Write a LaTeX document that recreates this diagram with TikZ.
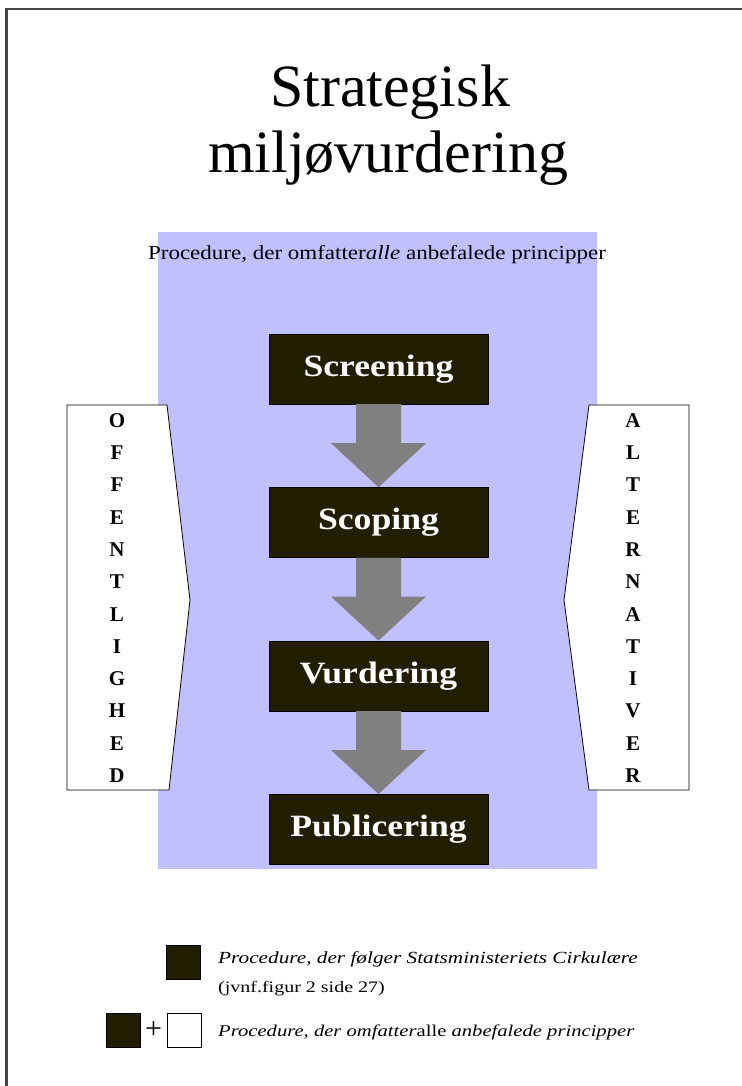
\documentclass[tikz,border=0pt]{standalone}
\usepackage{fontspec}
\setmainfont{Liberation Serif}
\newfontfamily\widefont[FakeStretch=1.15]{Liberation Serif}
\newfontfamily\keyfont[FakeStretch=1.25]{Liberation Serif}
\usetikzlibrary{positioning,calc}

\definecolor{procblue}{RGB}{192,192,255}
\definecolor{stepdark}{RGB}{34,30,2}
\definecolor{arrowgray}{RGB}{128,128,128}
\definecolor{framegray}{RGB}{70,70,70}

\tikzset{
  stepbox/.style={fill=stepdark,draw=black,minimum width=219pt,minimum height=70pt,
    text=white,font=\widefont\fontsize{31}{31}\selectfont\bfseries,inner sep=0pt},
  sideletters/.style={align=center,font=\fontsize{21}{32.3}\selectfont\bfseries,inner sep=0pt},
  panel/.style={draw=black,thick,fill=white},
  keybox/.style={draw=black,minimum size=34pt,inner sep=0pt},
  legendtext/.style={anchor=base west,inner sep=0pt,font=\keyfont\fontsize{17}{17}\selectfont\itshape},
}

% block arrow from one step box down to the next
\newcommand{\flowarrow}[2]{%
  \fill[arrowgray] ($(#1.south)+(-22.5,0)$) -- ($(#1.south)+(22.5,0)$)
    -- ($(#2.north)+(22.5,-44)$) -- ($(#2.north)+(47.5,-44)$) -- (#2.north)
    -- ($(#2.north)+(-47.5,-44)$) -- ($(#2.north)+(-22.5,-44)$) -- cycle;}

\begin{document}
\begin{tikzpicture}[x=1pt,y=-1pt]
\useasboundingbox (0,0) rectangle (741,1086);
\fill[white] (0,0) rectangle (741,1086);
\draw[framegray,line width=2.5pt] (6.5,1090) -- (6.5,9) -- (745,9);

% title
\node[font=\fontsize{60}{66}\selectfont,anchor=base] (title1) at (390,107) {Strategisk};
\node[font=\fontsize{60}{66}\selectfont,anchor=base] (title2) at (388,173) {miljøvurdering};

% blue procedure area
\fill[procblue] (158,232) rectangle (597,869);
\node[font=\widefont\fontsize{20}{20}\selectfont,anchor=base] (proc) at (377,259)
  {Procedure, der omfatter\textit{alle} anbefalede principper};

% side panels
\draw[panel] (67,405) -- (167,405) -- (190,600) -- (169,790) -- (67,790) -- cycle;
\node[sideletters] (offtext) at (117,598) {O\\F\\F\\E\\N\\T\\L\\I\\G\\H\\E\\D};

\draw[panel] (589,405) -- (689,405) -- (689,790) -- (589,790) -- (564,600) -- cycle;
\node[sideletters] (alttext) at (633,598) {A\\L\\T\\E\\R\\N\\A\\T\\I\\V\\E\\R};

% steps
\node[stepbox] (screening) at (378.5,369) {Screening};
\node[stepbox,below=83pt of screening] (scoping) {Scoping};
\node[stepbox,below=83pt of scoping] (vurdering) {Vurdering};
\node[stepbox,below=83pt of vurdering] (publicering) {Publicering};

\flowarrow{screening}{scoping}
\flowarrow{scoping}{vurdering}
\flowarrow{vurdering}{publicering}

% legend
\node[keybox,fill=stepdark] (keyA) at (183.5,962) {};
\node[legendtext] (keyAtext) at (218,963) {Procedure, der følger Statsministeriets Cirkulære};
\node[legendtext,font=\keyfont\fontsize{16}{16}\selectfont] (keyAref) at (218,992) {(jvnf.figur 2 side 27)};

\node[keybox,fill=stepdark] (keyB) at (123.5,1030) {};
\node[keybox,fill=white,right=26pt of keyB] (keyC) {};
\node[font=\fontsize{30}{30}\selectfont,inner sep=0pt] (plus) at ($(keyB.east)!0.5!(keyC.west)$) {+};
\node[legendtext,font=\keyfont\fontsize{16.5}{16.5}\selectfont\itshape] (keyCtext) at (218,1036)
  {Procedure, der omfatter\textup{alle} anbefalede principper};

\end{tikzpicture}
\end{document}
